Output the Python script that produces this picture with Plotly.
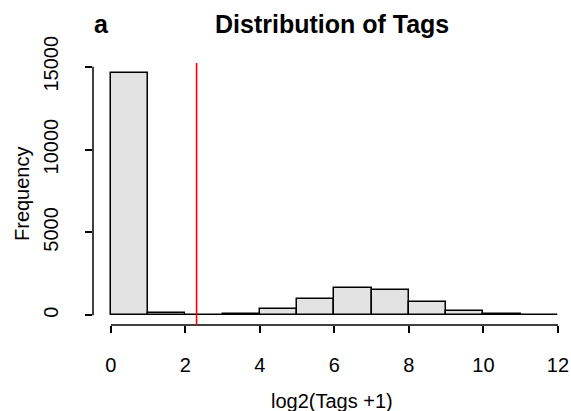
import plotly.graph_objects as go

# Data (histogram of log2(Tags + 1), bin width 1)
bin_left = [0, 1, 2, 3, 4, 5, 6, 7, 8, 9, 10, 11]
counts = [14640, 110, 40, 100, 400, 970, 1630, 1530, 790, 260, 60, 20]
threshold = 2.3
x_ticks = [0, 2, 4, 6, 8, 10, 12]
y_ticks = [0, 5000, 10000, 15000]
y_tick_labels = ["0", "5000", "10000", "15000"]

FONT = "Liberation Sans, Arial, sans-serif"

centers = [b + 0.5 for b in bin_left]

fig = go.Figure()
fig.add_trace(go.Bar(
    x=centers, y=counts, width=1,
    marker=dict(color="#e3e3e3", line=dict(color="black", width=1.5)),
    hoverinfo="skip",
))

# R-style axis lines spanning only tick range
fig.add_shape(type="line", xref="x", yref="paper", x0=x_ticks[0], x1=x_ticks[-1], y0=0, y1=0,
              line=dict(color="black", width=1.5))
fig.add_shape(type="line", xref="paper", yref="y", x0=0, x1=0, y0=y_ticks[0], y1=y_ticks[-1],
              line=dict(color="black", width=1.5))
# threshold line
fig.add_shape(type="line", xref="x", yref="paper", x0=threshold, x1=threshold, y0=0, y1=1,
              line=dict(color="red", width=1.6))

fig.update_layout(
    width=571, height=411,
    margin=dict(l=93, r=0, t=63, b=86),
    paper_bgcolor="white", plot_bgcolor="white",
    showlegend=False,
    bargap=0,
    font=dict(family=FONT, color="black", size=20),
    xaxis=dict(range=[-0.48, 12.35], tickvals=x_ticks, ticks="outside", ticklen=7,
               tickwidth=1.5, tickcolor="black", showgrid=False, zeroline=False,
               showline=False, tickfont=dict(size=20), ticklabelstandoff=15,
               automargin=False),
    yaxis=dict(range=[-586, 15226], tickvals=y_ticks, ticktext=y_tick_labels,
               ticks="outside", ticklen=7,
               tickwidth=1.5, tickcolor="black", showgrid=False, zeroline=False,
               showline=False, tickangle=-90, tickfont=dict(size=20), ticklabelstandoff=19,
               automargin=False),
    annotations=[
        dict(text="<b>Distribution of Tags</b>", xref="paper", yref="paper", x=0.5, y=1,
             yshift=39, showarrow=False, font=dict(size=25), xanchor="center", yanchor="middle"),
        dict(text="<b>a</b>", xref="paper", yref="paper", x=0, y=1, xshift=8, yshift=39,
             showarrow=False, font=dict(size=25), xanchor="center", yanchor="middle"),
        dict(text="log2(Tags +1)", xref="paper", yref="paper", x=0.5, y=0, yshift=-76,
             showarrow=False, font=dict(size=20), xanchor="center", yanchor="middle"),
        dict(text="Frequency", xref="paper", yref="paper", x=0, y=0.5, xshift=-71,
             showarrow=False, font=dict(size=20), textangle=-90, xanchor="center", yanchor="middle"),
    ],
)

fig.write_html("out.html", config={"displayModeBar": False},
               post_script="document.body.style.margin='0px';document.body.style.overflow='hidden';")
